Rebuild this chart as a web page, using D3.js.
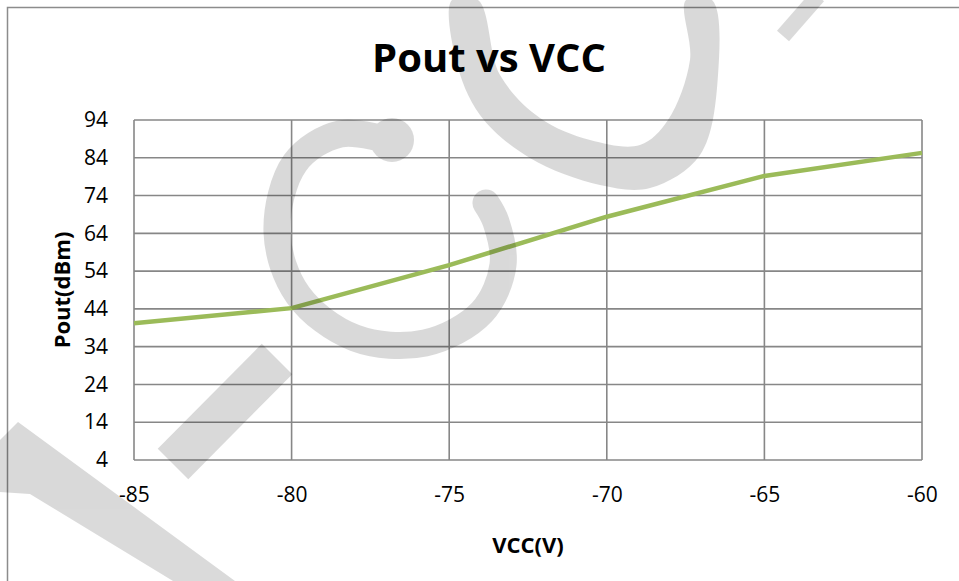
<!DOCTYPE html>
<html>
<head>
<meta charset="utf-8">
<script src="https://cdn.jsdelivr.net/npm/d3@7"></script>
<style>
  body { margin: 0; background: #fff; }
  text { font-family: "Open Sans", sans-serif; }
</style>
</head>
<body>
<svg id="chart"></svg>
<script>
// data
var vcc = [-85, -80, -75, -70, -65, -60];
var pout = [40.2, 44.2, 55.6, 68.4, 79.2, 85.3];
var yTicks = [4, 14, 24, 34, 44, 54, 64, 74, 84, 94];
var xTicks = [-85, -80, -75, -70, -65, -60];

var width = 959, height = 581;
var marginLeft = 134, marginRight = 37, marginTop = 120, marginBottom = 121;

var svg = d3.select("#chart")
    .attr("width", width)
    .attr("height", height)
    .attr("viewBox", [0, 0, width, height]);

var x = d3.scaleLinear([-85, -60], [marginLeft, width - marginRight]);
var y = d3.scaleLinear([4, 94], [height - marginBottom, marginTop]);

// chart frame (only top and left edges are in view)
svg.append("path")
    .attr("d", "M7.5,581V7.5H959")
    .attr("fill", "none")
    .attr("stroke", "#8c8c8c")
    .attr("stroke-width", 1.5);

// title
svg.append("text")
    .attr("x", 489)
    .attr("y", 72)
    .attr("text-anchor", "middle")
    .attr("font-weight", "bold")
    .attr("font-size", 40)
    .text("Pout vs VCC");

// grid
var grid = svg.append("g")
    .attr("stroke", "#878787")
    .attr("stroke-width", 1.6);
grid.selectAll(".h")
  .data(yTicks)
  .join("line")
    .attr("x1", x(-85)).attr("x2", x(-60))
    .attr("y1", d => y(d)).attr("y2", d => y(d));
grid.selectAll(".v")
  .data(xTicks)
  .join("line")
    .attr("x1", d => x(d)).attr("x2", d => x(d))
    .attr("y1", y(94)).attr("y2", y(4));

// axes, labels only
var yAxis = d3.axisLeft(y).tickValues(yTicks).tickSize(0).tickPadding(26)
    .tickFormat(d => String(d));
svg.append("g")
    .attr("transform", `translate(${marginLeft},0)`)
    .call(yAxis)
    .call(g => g.select(".domain").remove())
    .call(g => g.selectAll("text")
        .attr("font-family", "Open Sans, sans-serif")
        .attr("font-size", 21)
        .attr("fill", "#000"));

var xAxis = d3.axisBottom(x).tickValues(xTicks).tickSize(0).tickPadding(27)
    .tickFormat(d => String(d));
svg.append("g")
    .attr("transform", `translate(0,${height - marginBottom})`)
    .call(xAxis)
    .call(g => g.select(".domain").remove())
    .call(g => g.selectAll("text")
        .attr("font-family", "Open Sans, sans-serif")
        .attr("font-size", 21)
        .attr("fill", "#000"));

// axis titles
svg.append("text")
    .attr("transform", `translate(70,${(marginTop + height - marginBottom) / 2}) rotate(-90)`)
    .attr("text-anchor", "middle")
    .attr("font-weight", "bold")
    .attr("font-size", 22)
    .text("Pout(dBm)");

svg.append("text")
    .attr("x", (marginLeft + width - marginRight) / 2)
    .attr("y", 553)
    .attr("text-anchor", "middle")
    .attr("font-weight", "bold")
    .attr("font-size", 22)
    .text("VCC(V)");

// series
var line = d3.line()
    .x((d, i) => x(vcc[i]))
    .y(d => y(d));

svg.append("path")
    .datum(pout)
    .attr("fill", "none")
    .attr("stroke", "#9bbb59")
    .attr("stroke-width", 4.5)
    .attr("stroke-linejoin", "round")
    .attr("d", line);

// watermark drawn over the chart
var wm = svg.append("g")
    .attr("fill", "#000")
    .attr("stroke", "#000")
    .attr("opacity", 0.145);

var openCurve = d3.line().curve(d3.curveCatmullRom);
var closedCurve = d3.line().curve(d3.curveCatmullRomClosed);

// hooked C
wm.append("path")
    .attr("fill", "none")
    .attr("stroke-width", 27)
    .attr("stroke-linecap", "round")
    .attr("d", openCurve([[392, 141], [340, 134], [295, 163], [277, 232], [298, 295],
                     [355, 338], [425, 343], [482, 312], [503, 265], [496, 222], [486, 203]]));
wm.append("circle")
    .attr("stroke", "none")
    .attr("cx", 392).attr("cy", 140).attr("r", 22);

// big bowl at the top
wm.append("path")
    .attr("stroke", "none")
    .attr("d", closedCurve([[452, 0], [456, 60], [480, 115], [530, 158], [600, 185], [650, 188],
                       [700, 155], [718, 75], [712, 0],
                       [686, 0], [690, 60], [668, 120], [640, 145], [590, 140],
                       [540, 118], [500, 75], [478, 0]]));

// small stroke top right
wm.append("path")
    .attr("fill", "none")
    .attr("stroke-width", 16)
    .attr("d", "M783,36L818,-4");

// short bar
wm.append("path")
    .attr("fill", "none")
    .attr("stroke-width", 43)
    .attr("d", "M173,464L277,359");

// long bar bottom-left
wm.append("path")
    .attr("stroke", "none")
    .attr("d", "M0,440L18,422L235,581L173,581L30,494L0,492Z");
</script>
</body>
</html>
